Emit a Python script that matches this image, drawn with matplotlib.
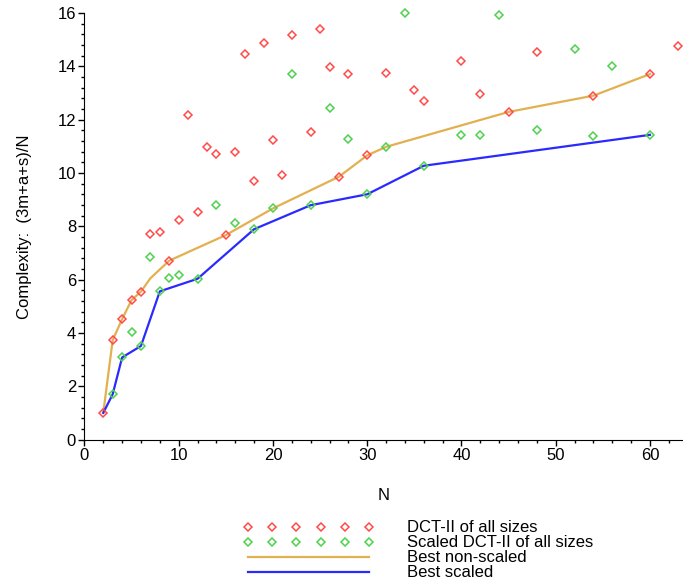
import matplotlib.pyplot as plt
from matplotlib.ticker import MultipleLocator

plt.rcParams["font.family"] = ["Liberation Sans", "DejaVu Sans"]

# DCT-II, alle Groessen (nicht skaliert)
n_dct = [2, 3, 4, 5, 6, 7, 8, 9, 10, 11, 12, 13, 14, 15, 16, 17, 18, 19, 20,
         21, 22, 24, 25, 26, 27, 28, 30, 32, 35, 36, 40, 42, 45, 48, 54, 60, 63]
c_dct = [1.0, 3.73, 4.52, 5.23, 5.55, 7.72, 7.77, 6.71, 8.22, 12.19, 8.54,
         10.98, 10.71, 7.67, 10.78, 14.48, 9.70, 14.88, 11.23, 9.91, 15.19,
         11.53, 15.39, 13.97, 9.86, 13.71, 10.66, 13.76, 13.10, 12.70, 14.21,
         12.95, 12.29, 14.53, 12.90, 13.71, 14.78]

# skalierte DCT-II
n_scaled = [3, 4, 5, 6, 7, 8, 9, 10, 12, 14, 16, 18, 20, 22, 24, 26, 28, 30,
            32, 34, 36, 40, 42, 44, 48, 52, 54, 56, 60]
c_scaled = [1.70, 3.08, 4.02, 3.51, 6.86, 5.56, 6.05, 6.16, 6.03, 8.79, 8.12,
            7.89, 8.67, 13.71, 8.79, 12.45, 11.28, 9.20, 10.98, 16.0, 10.27,
            11.43, 11.43, 15.94, 11.63, 14.66, 11.38, 14.01, 11.43]

# beste Varianten
n_best = [2, 3, 4, 5, 6, 7, 9, 15, 20, 27, 30, 32, 45, 54, 60]
c_best = [1.0, 3.73, 4.52, 5.23, 5.55, 6.05, 6.71, 7.67, 8.67, 9.86, 10.66,
          10.98, 12.29, 12.90, 13.71]

n_best_sc = [2, 3, 4, 6, 8, 12, 18, 24, 30, 36, 60]
c_best_sc = [1.0, 1.70, 3.08, 3.51, 5.56, 6.03, 7.89, 8.79, 9.20, 10.27, 11.43]

fig = plt.figure(figsize=(6.83, 5.84), dpi=100)
ax = fig.add_axes([0.1236, 0.2474, 0.8764, 0.7303])

ax.plot(n_dct, c_dct, linestyle="none", marker="D", markersize=4.5,
        markerfacecolor="none", markeredgecolor="#ff4a4a", markeredgewidth=1.1,
        label="DCT-II of all sizes", clip_on=False, zorder=3)
ax.plot(n_scaled, c_scaled, linestyle="none", marker="D", markersize=4.5,
        markerfacecolor="none", markeredgecolor="#4ed24e", markeredgewidth=1.1,
        label="Scaled DCT-II of all sizes", clip_on=False, zorder=3)
ax.plot(n_best, c_best, color="#e2b050", linewidth=1.6,
        label="Best non-scaled", zorder=2)
ax.plot(n_best_sc, c_best_sc, color="#2a2aff", linewidth=1.6,
        label="Best scaled", zorder=2)

ax.set_xlim(0, 63.5)
ax.set_ylim(0, 16)
ax.spines["top"].set_visible(False)
ax.spines["right"].set_visible(False)
ax.xaxis.set_major_locator(MultipleLocator(10))
ax.xaxis.set_minor_locator(MultipleLocator(2))
ax.yaxis.set_major_locator(MultipleLocator(2))
ax.yaxis.set_minor_locator(MultipleLocator(0.4))
ax.tick_params(which="major", direction="out", length=4, width=1, labelsize=12,
               pad=2)
ax.tick_params(which="minor", direction="out", length=2.5, width=1)
ax.set_xlabel("N", fontsize=12, labelpad=18)
ax.set_ylabel("Complexity:  (3m+a+s)/N", fontsize=12, labelpad=18)

fig.legend(loc="upper left", bbox_to_anchor=(0.356, 0.109), frameon=False,
           numpoints=6, handlelength=7.85, handletextpad=2.0,
           labelspacing=0.0, fontsize=12, borderpad=0, borderaxespad=0)

plt.savefig("out.png", dpi=100)
